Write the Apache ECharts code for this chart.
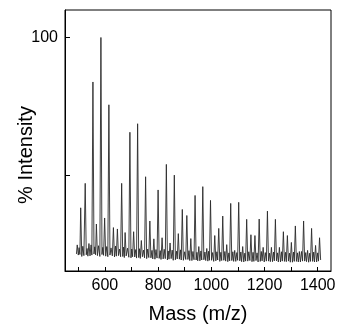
<!DOCTYPE html>
<html>
<head>
<meta charset="utf-8">
<script src="https://cdn.jsdelivr.net/npm/echarts@6/dist/echarts.min.js"></script>
<style>
html,body{margin:0;padding:0;background:#fff;}
#chart{width:339px;height:329px;}
</style>
</head>
<body>
<div id="chart"></div>
<script>
// Main peak apexes (m/z) and % intensity
var peakMz = [496, 509, 526, 540, 555, 568, 585, 599, 615, 632, 647, 663, 676, 694, 708, 723, 737, 753, 769, 784,
  800, 815, 831, 845, 861, 876, 891, 908, 923, 939, 953, 968, 983, 997, 1013, 1028, 1043, 1058, 1073, 1088,
  1103, 1118, 1133, 1149, 1164, 1180, 1195, 1211, 1226, 1241, 1256, 1271, 1286, 1301, 1316, 1331, 1347, 1362, 1377, 1392, 1407];
var peakInt = [24.5, 38.0, 46.9, 25.0, 83.8, 32.1, 100, 34.3, 75.5, 30.8, 30.3, 46.9, 29.0, 65.5, 29.3, 68.6, 26.1, 49.3, 33.2, 26.7,
  44.5, 27.1, 53.8, 25.2, 49.9, 28.6, 37.4, 35.2, 26.8, 42.5, 23.9, 45.7, 23.2, 40.7, 27.9, 30.5, 35.0, 24.6, 39.6, 22.5,
  40.0, 23.9, 33.8, 28.2, 27.9, 33.9, 23.6, 36.8, 23.6, 33.8, 23.6, 29.3, 27.9, 25.4, 31.4, 22.1, 33.2, 22.5, 30.5, 24.3, 27.1];

// Baseline points between peaks (valley, small bump, valley)
var baseMz = [493,
  500, 503, 506, 513, 517, 521, 530, 533, 536, 544, 548, 551, 559, 562, 565, 572, 576, 581, 589, 592, 595,
  603, 607, 611, 619, 623, 628, 636, 640, 643, 651, 655, 659, 667, 670, 673, 680, 685, 690, 698, 701, 704,
  712, 716, 719, 727, 730, 733, 741, 745, 749, 757, 761, 765, 773, 777, 780, 788, 792, 796, 804, 808, 811,
  819, 823, 827, 835, 838, 841, 849, 853, 857, 865, 869, 872, 880, 884, 887, 895, 900, 904, 912, 916, 919,
  927, 931, 935, 943, 946, 949, 957, 961, 964, 972, 976, 979, 987, 990, 993, 1001, 1005, 1009, 1017, 1021, 1024,
  1032, 1036, 1039, 1047, 1051, 1054, 1062, 1066, 1069, 1077, 1081, 1084, 1092, 1096, 1099, 1107, 1111, 1114,
  1122, 1126, 1129, 1137, 1141, 1145, 1153, 1157, 1160, 1168, 1172, 1176, 1184, 1188, 1191, 1199, 1203, 1207,
  1215, 1219, 1222, 1230, 1234, 1237, 1245, 1249, 1252, 1260, 1264, 1267, 1275, 1279, 1282, 1290, 1294, 1297,
  1305, 1309, 1312, 1320, 1324, 1327, 1335, 1339, 1343, 1351, 1355, 1358, 1366, 1370, 1373, 1381, 1385, 1388,
  1396, 1400, 1403,
  1411];
var baseInt = [21.2,
  20.8, 23.5, 21.0, 20.3, 24.0, 20.6, 20.9, 23.2, 20.4, 20.5, 24.5, 20.8, 21.2, 23.8, 20.9, 20.6, 24.2, 20.3, 21.0, 23.6, 20.7,
  20.4, 23.9, 20.2, 20.8, 23.4, 20.5, 20.1, 24.1, 20.4, 20.6, 23.0, 20.2, 20.3, 23.7, 19.9, 20.5, 23.3, 20.0, 19.8, 23.0, 20.2,
  20.1, 22.8, 19.7, 19.9, 23.1, 19.6, 20.2, 22.6, 19.8, 19.5, 23.0, 19.9, 19.8, 22.5, 19.4, 19.3, 22.8, 19.7, 19.6, 22.4, 19.2,
  19.4, 22.9, 19.5, 19.0, 22.3, 19.3, 19.5, 22.6, 18.9, 19.1, 22.2, 19.4, 19.3, 22.7, 19.0, 18.9, 22.0, 19.2, 19.2, 22.4, 18.8,
  18.8, 22.1, 19.1, 19.0, 21.8, 18.7, 18.7, 22.3, 19.0, 19.1, 21.9, 18.8, 18.6, 22.2, 18.9, 18.9, 21.7, 18.5, 18.7, 22.0, 19.0,
  18.5, 21.8, 18.8, 18.9, 22.1, 18.6, 18.4, 21.6, 18.7, 18.8, 22.0, 18.5, 18.5, 21.7, 18.9, 18.7, 21.9, 18.4,
  18.3, 21.5, 18.6, 18.6, 22.0, 18.8, 18.4, 21.8, 18.5, 18.8, 21.6, 18.3, 18.5, 22.1, 18.7, 18.3, 21.7, 18.6,
  18.6, 21.5, 18.4, 18.4, 21.9, 18.7, 18.7, 21.6, 18.3, 18.3, 22.0, 18.6, 18.5, 21.8, 18.4, 18.6, 21.5, 18.2,
  18.2, 21.9, 18.5, 18.5, 21.6, 18.3, 18.3, 22.1, 18.6, 18.6, 21.7, 18.4, 18.2, 21.5, 18.5, 18.5, 21.9, 18.3,
  18.3, 21.6, 18.6,
  19.0];

// Axis ticks and labels
var xTicks = [500, 600, 700, 800, 900, 1000, 1100, 1200, 1300, 1400];
var xLabels = [600, 800, 1000, 1200, 1400];
var yTicks = [50, 100];
var yLabels = [100];

var pts = [];
for (var i = 0; i < peakMz.length; i++) pts.push([peakMz[i], peakInt[i]]);
for (var j = 0; j < baseMz.length; j++) pts.push([baseMz[j], baseInt[j]]);
pts.sort(function (a, b) { return a[0] - b[0]; });

var font = 'Liberation Sans, Arial, sans-serif';
var chart = echarts.init(document.getElementById('chart'), null, {renderer: 'canvas'});
chart.setOption({
  animation: false,
  backgroundColor: '#fff',
  grid: {left: 65, top: 10, width: 266, height: 266, show: true, borderColor: '#000', borderWidth: 1, backgroundColor: 'transparent'},
  xAxis: {
    type: 'value', min: 450, max: 1450,
    name: 'Mass (m/z)', nameLocation: 'middle', nameGap: 33,
    nameTextStyle: {fontSize: 20, color: '#000', fontFamily: font},
    axisLine: {show: true, lineStyle: {color: '#000', width: 1}},
    axisTick: {show: true, inside: true, length: 4, customValues: xTicks, lineStyle: {color: '#000'}},
    axisLabel: {customValues: xLabels, fontSize: 16, color: '#000', margin: 7, fontFamily: font,
      formatter: function (v) { return String(v); }},
    splitLine: {show: false}
  },
  yAxis: {
    type: 'value', min: 15, max: 110,
    axisLine: {show: true, lineStyle: {color: '#000', width: 1}},
    axisTick: {show: true, inside: true, length: 5, customValues: yTicks, lineStyle: {color: '#000'}},
    axisLabel: {customValues: yLabels, fontSize: 16, color: '#000', margin: 7, fontFamily: font,
      formatter: function (v) { return String(v); }},
    splitLine: {show: false}
  },
  graphic: [{
    type: 'text', x: 26, y: 155, rotation: Math.PI / 2,
    style: {text: '% Intensity', fontSize: 20, fill: '#000', fontFamily: font, align: 'center', verticalAlign: 'middle'}
  }],
  series: [{
    type: 'line', data: pts, showSymbol: false, symbol: 'none',
    lineStyle: {color: '#2a2a2a', width: 0.9}, silent: true
  }]
});
</script>
</body>
</html>
